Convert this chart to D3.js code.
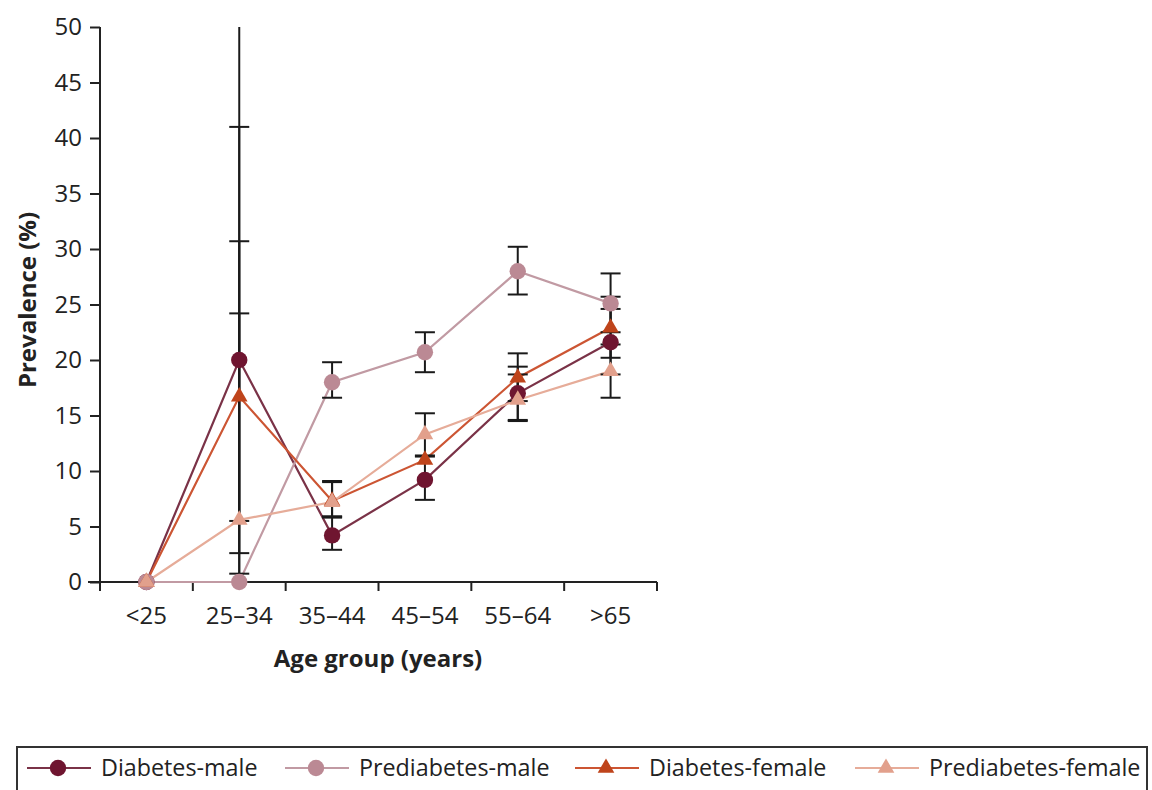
<!DOCTYPE html>
<html>
<head>
<meta charset="utf-8">
<script src="https://cdn.jsdelivr.net/npm/d3@7"></script>
<style>
  html, body { margin: 0; padding: 0; background: #fff; }
  svg { display: block; }
  text { font-family: "Open Sans", "Noto Sans", sans-serif; fill: #222; }
</style>
</head>
<body>
<svg id="chart" width="1152" height="790"></svg>
<script>
// ---------- data ----------
const categories = ["<25", "25–34", "35–44", "45–54", "55–64", ">65"];
const yTicks = [0, 5, 10, 15, 20, 25, 30, 35, 40, 45, 50];

const diabetesMale      = [0, 20.0, 4.2, 9.2, 17.0, 21.6];
const prediabetesMale   = [0, 0.0, 18.0, 20.7, 28.0, 25.1];
const diabetesFemale    = [0, 16.7, 7.3, 11.0, 18.4, 22.9];
const prediabetesFemale = [0, 5.6, 7.2, 13.3, 16.4, 19.0];

// confidence intervals (null = not shown)
const diabetesMaleLow       = [null, 5.5, 2.9, 7.4, 14.6, 18.7];
const diabetesMaleHigh      = [null, 60, 5.9, 11.3, 19.4, 24.6];
const prediabetesMaleLow    = [null, 0, 16.6, 18.9, 25.9, 22.5];
const prediabetesMaleHigh   = [null, 24.2, 19.8, 22.5, 30.2, 27.8];
const diabetesFemaleLow     = [null, 2.6, 5.8, null, 16.3, 20.2];
const diabetesFemaleHigh    = [null, 41.0, 9.0, null, 20.6, 25.7];
const prediabetesFemaleLow  = [null, 0.75, 5.9, 11.4, 14.5, 16.6];
const prediabetesFemaleHigh = [null, 30.7, 9.1, 15.2, 18.7, 21.4];

const seriesNames = ["Diabetes-male", "Prediabetes-male", "Diabetes-female", "Prediabetes-female"];

const series = [
  { name: seriesNames[0], values: diabetesMale, low: diabetesMaleLow, high: diabetesMaleHigh, color: "#6f1530", line: "#7a3247", shape: "circle" },
  { name: seriesNames[1], values: prediabetesMale, low: prediabetesMaleLow, high: prediabetesMaleHigh, color: "#bb8994", line: "#c19aa3", shape: "circle" },
  { name: seriesNames[2], values: diabetesFemale, low: diabetesFemaleLow, high: diabetesFemaleHigh, color: "#bf441b", line: "#cc5533", shape: "triangle" },
  { name: seriesNames[3], values: prediabetesFemale, low: prediabetesFemaleLow, high: prediabetesFemaleHigh, color: "#e2a08c", line: "#e6ac99", shape: "triangle" }
];

// ---------- layout ----------
const svg = d3.select("#chart");
const pLeft = 100, pRight = 657, pTop = 27, pBottom = 582;

const x = d3.scaleBand().domain(categories).range([pLeft, pRight]).padding(0);
const y = d3.scaleLinear().domain([0, 50]).range([pBottom, pTop]);
const cx = d => x(d) + x.bandwidth() / 2;

svg.append("defs").append("clipPath").attr("id", "plotclip")
  .append("rect").attr("x", 0).attr("y", pTop).attr("width", 1152).attr("height", pBottom - pTop + 20);

// y axis
const yAxis = svg.append("g")
  .attr("transform", `translate(${pLeft},0)`)
  .call(d3.axisLeft(y).tickValues(yTicks).tickSize(10).tickSizeOuter(0).tickPadding(8));
yAxis.select(".domain").attr("stroke", "#222").attr("stroke-width", 2)
  .attr("d", `M0,${pTop}V${pBottom + 9}`);
yAxis.selectAll(".tick line").attr("stroke", "#222").attr("stroke-width", 2);
yAxis.selectAll(".tick text").style("font-size", "24px").style("font-family", "'Open Sans', sans-serif").attr("fill", "#222");

// x axis: labels centered in band, ticks at boundaries
const xAxis = svg.append("g")
  .attr("transform", `translate(0,${pBottom})`)
  .call(d3.axisBottom(x).tickSize(0).tickPadding(25));
xAxis.select(".domain").attr("stroke", "#222").attr("stroke-width", 2)
  .attr("d", `M${pLeft - 12},0H${pRight}`);
xAxis.selectAll(".tick text").style("font-size", "24px").style("font-family", "'Open Sans', sans-serif").attr("fill", "#222");
const boundaries = categories.map(c => x(c)).concat([x.range()[1]]);
xAxis.selectAll("line.bound").data(boundaries.slice(1)).join("line")
  .attr("class", "bound")
  .attr("x1", d => d).attr("x2", d => d).attr("y1", 0).attr("y2", 9)
  .attr("stroke", "#222").attr("stroke-width", 2);

// axis titles
svg.append("text")
  .attr("transform", `translate(36,300) rotate(-90)`)
  .attr("text-anchor", "middle")
  .style("font-size", "24px").style("font-weight", "bold")
  .text("Prevalence (%)");
svg.append("text")
  .attr("x", 378).attr("y", 667)
  .attr("text-anchor", "middle")
  .style("font-size", "24px").style("font-weight", "bold")
  .text("Age group (years)");

// lines
const lineGen = d3.line().x((d, i) => cx(categories[i])).y(d => y(d));
const plot = svg.append("g").attr("clip-path", "url(#plotclip)");
series.forEach(s => {
  plot.append("path").datum(s.values)
    .attr("d", lineGen)
    .attr("fill", "none")
    .attr("stroke", s.line)
    .attr("stroke-width", 2.2);
});

// error bars
const capW = 10;
series.forEach(s => {
  const eb = categories.map((c, i) => ({ c, lo: s.low[i], hi: s.high[i] })).filter(d => d.lo !== null);
  const g = plot.append("g");
  g.selectAll("line.v").data(eb).join("line")
    .attr("x1", d => cx(d.c)).attr("x2", d => cx(d.c))
    .attr("y1", d => y(d.lo)).attr("y2", d => y(Math.min(d.hi, 50)))
    .attr("stroke", "#1a1a1a").attr("stroke-width", 2);
  const caps = [];
  eb.forEach(d => { [d.lo, d.hi].forEach(v => { if (v > 0 && v <= 50) caps.push({ c: d.c, v }); }); });
  g.selectAll("line.cap").data(caps).join("line")
    .attr("x1", d => cx(d.c) - capW).attr("x2", d => cx(d.c) + capW)
    .attr("y1", d => y(d.v)).attr("y2", d => y(d.v))
    .attr("stroke", "#1a1a1a").attr("stroke-width", 2);
});

// markers
const triangle = d3.symbol().type(d3.symbolTriangle).size(120);
function drawMarker(g, shape, color, px, py) {
  if (shape === "circle") {
    g.append("circle").attr("cx", px).attr("cy", py).attr("r", 8.2).attr("fill", color);
  } else {
    g.append("path").attr("d", triangle()).attr("transform", `translate(${px},${py})`).attr("fill", color);
  }
}
series.forEach(s => {
  const g = svg.append("g");
  s.values.forEach((v, i) => drawMarker(g, s.shape, s.color, cx(categories[i]), y(v)));
});

// legend
svg.append("rect").attr("x", 17).attr("y", 747).attr("width", 1130).attr("height", 80)
  .attr("fill", "none").attr("stroke", "#333").attr("stroke-width", 2);
const legendX = [27, 285, 575, 855];
const legendY = 768;
series.forEach((s, i) => {
  const g = svg.append("g").attr("transform", `translate(${legendX[i]},${legendY})`);
  g.append("line").attr("x1", 0).attr("x2", 64).attr("y1", 0).attr("y2", 0)
    .attr("stroke", s.line).attr("stroke-width", 2.2);
  drawMarker(g, s.shape, s.color, 31, 0);
  g.append("text").attr("x", 74).attr("y", 8).style("font-size", "23.3px").text(s.name);
});
</script>
</body>
</html>
